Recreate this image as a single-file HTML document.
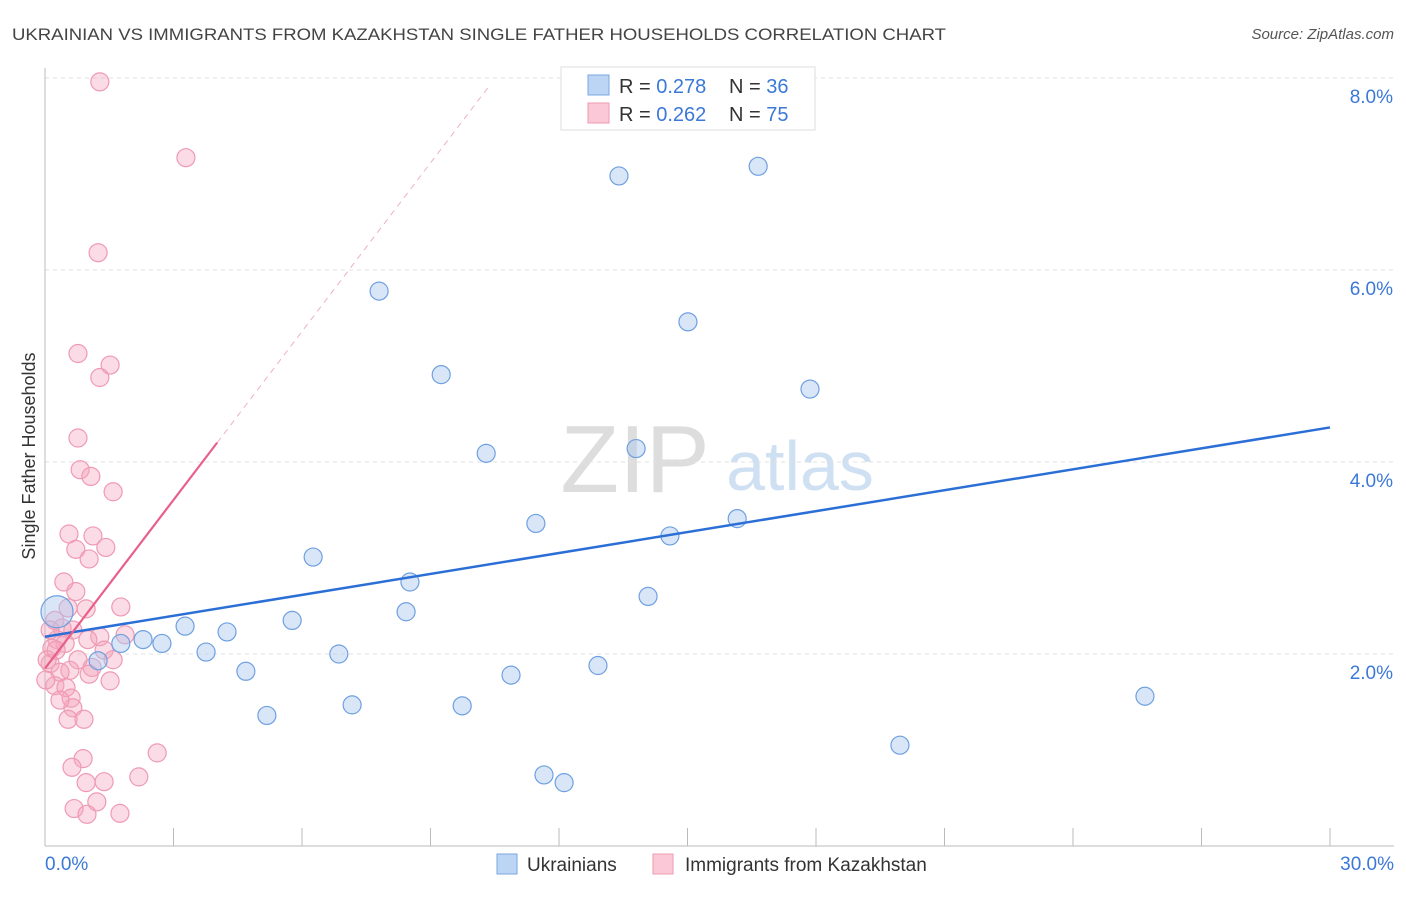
<!DOCTYPE html>
<html><head><meta charset="utf-8"><style>
body{margin:0;background:#fff;font-family:"Liberation Sans",sans-serif}
svg text{font-family:"Liberation Sans",sans-serif}
</style></head><body>
<svg id="c" width="1406" height="892">
<text x="12" y="40" font-size="17" fill="#444" textLength="934" lengthAdjust="spacingAndGlyphs">UKRAINIAN VS IMMIGRANTS FROM KAZAKHSTAN SINGLE FATHER HOUSEHOLDS CORRELATION CHART</text>
<text x="1394" y="39" font-size="15" fill="#555" font-style="italic" text-anchor="end">Source: ZipAtlas.com</text>
<text x="35" y="456" font-size="18" fill="#333" text-anchor="middle" transform="rotate(-90 35 456)">Single Father Households</text>
<text x="635" y="492" font-size="96" fill="#ddd" font-family="Liberation Serif" text-anchor="middle">ZIP</text>
<text x="800" y="490" font-size="70" fill="#cfe0f3" text-anchor="middle">atlas</text>
<g id="grid"></g><g id="marks"></g>
<g>
<rect x="561" y="67" width="254" height="63" fill="#fff" stroke="#ddd"/>
<rect x="588" y="75" width="21" height="20" fill="#bcd5f5" stroke="#7aa7e0"/>
<rect x="588" y="103" width="21" height="20" fill="#fac8d6" stroke="#ee9ab3"/>
<text x="619" y="93" font-size="20" fill="#333">R = <tspan fill="#3b78d8">0.278</tspan></text>
<text x="729" y="93" font-size="20" fill="#333">N = <tspan fill="#3b78d8">36</tspan></text>
<text x="619" y="121" font-size="20" fill="#333">R = <tspan fill="#3b78d8">0.262</tspan></text>
<text x="729" y="121" font-size="20" fill="#333">N = <tspan fill="#3b78d8">75</tspan></text>
</g>
<g>
<rect x="497" y="854" width="20" height="20" fill="#bcd5f5" stroke="#7aa7e0"/>
<text x="527" y="871" font-size="19" fill="#333">Ukrainians</text>
<rect x="653" y="854" width="20" height="20" fill="#fac8d6" stroke="#ee9ab3"/>
<text x="685" y="871" font-size="19" fill="#333">Immigrants from Kazakhstan</text>
</g>
</svg>
<script>
const yTicks=[2,4,6,8];
const yTickLabels=["2.0%","4.0%","6.0%","8.0%"];
const xTickLabels=["0.0%","30.0%"];
const blueX=[0.28,1.24,1.77,2.29,2.73,3.27,3.76,4.25,4.69,5.18,5.77,6.26,6.86,7.17,7.80,8.43,8.52,9.25,9.74,10.30,10.88,11.46,11.65,12.12,12.91,13.40,13.80,14.08,14.59,15.01,16.16,16.65,17.86,19.96,25.68];
const blueY=[2.44,1.93,2.11,2.15,2.11,2.29,2.02,2.23,1.82,1.36,2.35,3.01,2.00,1.47,5.78,2.44,2.75,4.91,1.46,4.09,1.78,3.36,0.74,0.66,1.88,6.98,4.14,2.60,3.23,5.46,3.41,7.08,4.76,1.05,1.56];
const pinkX=[1.28,3.29,1.24,0.77,1.52,1.28,0.77,0.82,1.07,1.59,0.56,1.12,0.72,1.42,1.03,0.44,0.72,0.96,1.77,0.54,0.23,0.40,0.65,1.87,1.28,1.00,0.28,0.47,0.16,1.38,0.77,1.59,0.12,1.10,0.58,0.35,1.03,1.52,0.23,0.49,0.61,0.65,0.54,0.91,0.89,0.63,2.62,2.19,0.96,1.38,0.68,1.21,0.98,1.75,0.05,0.12,0.26,0.35,0.02];
const pinkY=[7.96,7.17,6.18,5.13,5.01,4.88,4.25,3.92,3.85,3.69,3.25,3.23,3.09,3.11,2.99,2.75,2.65,2.47,2.49,2.48,2.35,2.27,2.25,2.20,2.18,2.15,2.15,2.11,2.06,2.04,1.94,1.94,1.90,1.86,1.83,1.81,1.79,1.72,1.67,1.65,1.54,1.44,1.32,1.32,0.91,0.82,0.97,0.72,0.66,0.67,0.39,0.46,0.33,0.34,1.94,2.25,2.04,1.52,1.73];
const blueLine=[2.18,4.36];
const pinkLine=[1.85,0.585];
const X=v=>45+v/30*1285, Y=v=>846-v*96;
const ns="http://www.w3.org/2000/svg";
function mk(t,a,p){const e=document.createElementNS(ns,t);for(const k in a)e.setAttribute(k,a[k]);p.appendChild(e);return e;}
const g=document.getElementById('grid'), m=document.getElementById('marks');
yTicks.forEach((t,i)=>{
 const l=mk('line',{x1:45,x2:1394,y1:Y(t),y2:Y(t),stroke:'#e2e2e2','stroke-dasharray':'4 4'},g);
 
 
 const tx=mk('text',{x:1393,y:Y(t)+25,'font-size':19,fill:'#3b78d8','text-anchor':'end'},g);tx.textContent=yTickLabels[i];
 
 
});
mk('line',{x1:45,x2:45,y1:68,y2:846,stroke:'#bbb'},g);
mk('line',{x1:45,x2:1394,y1:846,y2:846,stroke:'#bbb'},g);
for(let i=1;i<=10;i++){const x=X(i*3);mk('line',{x1:x,x2:x,y1:828,y2:846,stroke:'#bbb'},g);}
const xl=[[45,'start'],[1394,'end']];
xTickLabels.forEach((s,i)=>{const t=mk('text',{x:xl[i][0],y:870,'font-size':19,fill:'#3b78d8','text-anchor':xl[i][1]},g);t.textContent=s;
 
 });
pinkX.forEach((x,i)=>{const c=mk('circle',{cx:X(x),cy:Y(pinkY[i]),r:9,fill:'rgba(246,166,190,0.4)',stroke:'#ef9ab4','stroke-width':1.2},m);
 
 });
blueX.forEach((x,i)=>{const c=mk('circle',{cx:X(x),cy:Y(blueY[i]),r:i==0?16:9,fill:'rgba(170,200,240,0.45)',stroke:'#6fa0e0','stroke-width':1.2},m);
 
 });
const bl=mk('line',{x1:X(0),y1:Y(blueLine[0]),x2:X(30),y2:Y(blueLine[1]),stroke:'#2b6fd6','stroke-width':2.5},m);


const pl=mk('line',{x1:X(0),y1:Y(pinkLine[0]),x2:X(4.02),y2:Y(pinkLine[0]+pinkLine[1]*4.02),stroke:'#e8608a','stroke-width':2.2},m);


const pd=mk('line',{x1:X(4.02),y1:Y(pinkLine[0]+pinkLine[1]*4.02),x2:X(10.39),y2:Y(pinkLine[0]+pinkLine[1]*10.39),stroke:'#eeb0c2','stroke-width':1,'stroke-dasharray':'6 5'},m);


</script>
</body></html>
